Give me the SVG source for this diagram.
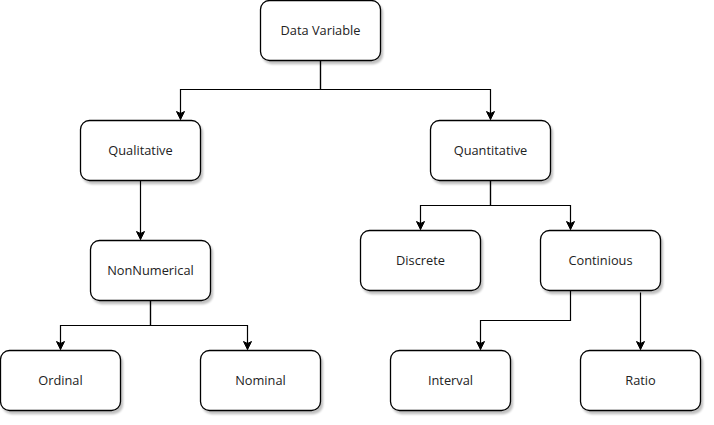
<svg xmlns="http://www.w3.org/2000/svg" width="714" height="425" viewBox="0 0 714 425">
<defs>
<filter id="sh" x="-10%" y="-10%" width="130%" height="140%">
<feGaussianBlur in="SourceAlpha" stdDeviation="1"/>
<feOffset dx="2" dy="3" result="b"/>
<feComponentTransfer><feFuncA type="linear" slope="0.25"/></feComponentTransfer>
<feMerge><feMergeNode/><feMergeNode in="SourceGraphic"/></feMerge>
</filter>
<marker id="arr" markerUnits="userSpaceOnUse" markerWidth="10" markerHeight="10" viewBox="0 0 10 10" refX="9" refY="5" orient="auto">
<path d="M1,1 L9,5 L1,9 L3,5 z" fill="#000" stroke="#000" stroke-width="1"/>
</marker>
<style>
.box{fill:#fff;stroke:#000;stroke-width:1.3;filter:url(#sh)}
.lbl{font-family:"Open Sans","DejaVu Sans",sans-serif;font-size:12.8px;fill:#222;text-anchor:middle;dominant-baseline:central}
.edge{fill:none;stroke:#000;stroke-width:1.2;marker-end:url(#arr)}
</style>
</defs>
<rect width="714" height="425" fill="#fff"/>
<g id="connectors">
<path class="edge" d="M320.5,60.5 V89.5 H180.5 V119.5"/>
<path class="edge" d="M320.5,60.5 V89.5 H490.5 V119.5"/>
<path class="edge" d="M140.5,180.5 V239.5"/>
<path class="edge" d="M150.5,300.5 V325.5 H60.5 V349.5"/>
<path class="edge" d="M150.5,300.5 V325.5 H247.5 V349.5"/>
<path class="edge" d="M490.5,180.5 V205.5 H420.5 V229.5"/>
<path class="edge" d="M490.5,180.5 V205.5 H570.5 V229.5"/>
<path class="edge" d="M570.5,290.5 V320.5 H480.5 V349.5"/>
<path class="edge" d="M640.5,292.5 V349.5"/>
</g>
<g id="data-variable"><rect class="box" x="260.5" y="0.5" width="120" height="60" rx="9"/><text class="lbl" x="320.5" y="30">Data Variable</text></g>
<g id="qualitative"><rect class="box" x="80.5" y="120.5" width="120" height="60" rx="9"/><text class="lbl" x="140.5" y="150">Qualitative</text></g>
<g id="quantitative"><rect class="box" x="430.5" y="120.5" width="120" height="60" rx="9"/><text class="lbl" x="490.5" y="150">Quantitative</text></g>
<g id="nonnumerical"><rect class="box" x="90.5" y="240.5" width="120" height="60" rx="9"/><text class="lbl" x="150.5" y="270">NonNumerical</text></g>
<g id="discrete"><rect class="box" x="360.5" y="230.5" width="120" height="60" rx="9"/><text class="lbl" x="420.5" y="260">Discrete</text></g>
<g id="continious"><rect class="box" x="540.5" y="230.5" width="120" height="60" rx="9"/><text class="lbl" x="600.5" y="260">Continious</text></g>
<g id="ordinal"><rect class="box" x="0.5" y="350.5" width="120" height="60" rx="9"/><text class="lbl" x="60.5" y="380">Ordinal</text></g>
<g id="nominal"><rect class="box" x="200.5" y="350.5" width="120" height="60" rx="9"/><text class="lbl" x="260.5" y="380">Nominal</text></g>
<g id="interval"><rect class="box" x="390.5" y="350.5" width="120" height="60" rx="9"/><text class="lbl" x="450.5" y="380">Interval</text></g>
<g id="ratio"><rect class="box" x="580.5" y="350.5" width="120" height="60" rx="9"/><text class="lbl" x="640.5" y="380">Ratio</text></g>
</svg>
